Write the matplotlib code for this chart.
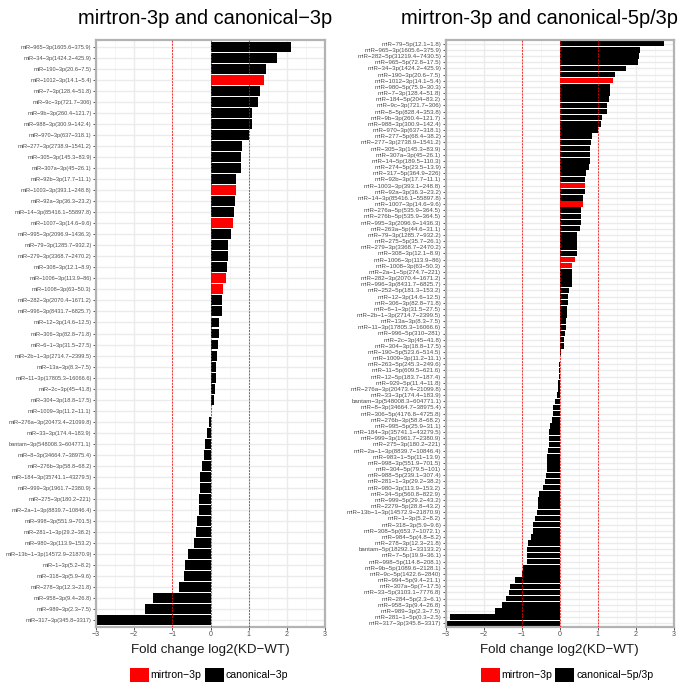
import matplotlib
matplotlib.use("Agg")
import matplotlib.pyplot as plt
from matplotlib.patches import Patch
import numpy as np

plt.rcParams['font.family'] = ['Liberation Sans', 'DejaVu Sans']

# ---------------- data ----------------
left_labels = [
    "miR-965-3p(1605.6-375.9)", "miR-34-3p(1424.2-425.9)", "miR-190-3p(20.6-7.5)",
    "miR-1012-3p(14.1-5.4)", "miR-7-3p(128.4-51.8)", "miR-9c-3p(721.7-306)",
    "miR-9b-3p(260.4-121.7)", "miR-988-3p(300.9-142.4)", "miR-970-3p(637-318.1)",
    "miR-277-3p(2738.9-1541.2)", "miR-305-3p(145.3-83.9)", "miR-307a-3p(45-26.1)",
    "miR-92b-3p(17.7-11.1)", "miR-1003-3p(393.1-248.8)", "miR-92a-3p(36.3-23.2)",
    "miR-14-3p(85416.1-55897.8)", "miR-1007-3p(14.6-9.6)", "miR-995-3p(2096.9-1436.3)",
    "miR-79-3p(1285.7-932.2)", "miR-279-3p(3368.7-2470.2)", "miR-308-3p(12.1-8.9)",
    "miR-1006-3p(113.9-86)", "miR-1008-3p(63-50.3)", "miR-282-3p(2070.4-1671.2)",
    "miR-996-3p(8431.7-6825.7)", "miR-12-3p(14.6-12.5)", "miR-306-3p(82.8-71.8)",
    "miR-6-1-3p(31.5-27.5)", "miR-2b-1-3p(2714.7-2399.5)", "miR-13a-3p(8.3-7.5)",
    "miR-11-3p(17805.3-16066.6)", "miR-2c-3p(45-41.8)", "miR-304-3p(18.8-17.5)",
    "miR-1009-3p(11.2-11.1)", "miR-276a-3p(20473.4-21099.8)", "miR-33-3p(174.4-183.9)",
    "bantam-3p(548008.3-604771.1)", "miR-8-3p(34664.7-38975.4)", "miR-276b-3p(58.8-68.2)",
    "miR-184-3p(35741.1-43279.5)", "miR-999-3p(1961.7-2380.9)", "miR-275-3p(180.2-221)",
    "miR-2a-1-3p(8839.7-10846.4)", "miR-998-3p(551.9-701.5)", "miR-281-1-3p(29.2-38.2)",
    "miR-980-3p(113.9-153.2)", "miR-13b-1-3p(14572.9-21870.9)", "miR-1-3p(5.2-8.2)",
    "miR-318-3p(5.9-9.6)", "miR-278-3p(12.3-21.8)", "miR-958-3p(9.4-26.8)",
    "miR-989-3p(2.3-7.5)", "miR-317-3p(345.8-3317)",
]
left_values = [
    2.10, 1.74, 1.46, 1.39, 1.31, 1.24, 1.10, 1.08, 1.00, 0.83, 0.79, 0.79,
    0.67, 0.66, 0.65, 0.61, 0.60, 0.55, 0.46, 0.45, 0.44, 0.41, 0.33, 0.31,
    0.31, 0.22, 0.21, 0.20, 0.18, 0.15, 0.15, 0.11, 0.10, 0.01, -0.04, -0.08,
    -0.14, -0.17, -0.21, -0.28, -0.28, -0.29, -0.30, -0.35, -0.39, -0.43,
    -0.59, -0.66, -0.70, -0.83, -1.51, -1.71, -3.26,
]

right_labels = [
    "miR-79-5p(12.1-1.8)", "miR-965-3p(1605.6-375.9)", "miR-282-5p(31219.4-7430.5)",
    "miR-965-5p(72.8-17.5)", "miR-34-3p(1424.2-425.9)", "miR-190-3p(20.6-7.5)",
    "miR-1012-3p(14.1-5.4)", "miR-980-5p(75.9-30.3)", "miR-7-3p(128.4-51.8)",
    "miR-184-5p(204-83.2)", "miR-9c-3p(721.7-306)", "miR-8-5p(828.4-353.8)",
    "miR-9b-3p(260.4-121.7)", "miR-988-3p(300.9-142.4)", "miR-970-3p(637-318.1)",
    "miR-277-5p(68.4-38.2)", "miR-277-3p(2738.9-1541.2)", "miR-305-3p(145.3-83.9)",
    "miR-307a-3p(45-26.1)", "miR-14-5p(189.5-110.3)", "miR-274-5p(23.5-13.9)",
    "miR-317-5p(364.9-226)", "miR-92b-3p(17.7-11.1)", "miR-1003-3p(393.1-248.8)",
    "miR-92a-3p(36.3-23.2)", "miR-14-3p(85416.1-55897.8)", "miR-1007-3p(14.6-9.6)",
    "miR-276a-5p(535.9-364.5)", "miR-276b-5p(535.9-364.5)", "miR-995-3p(2096.9-1436.3)",
    "miR-263a-5p(44.6-31.1)", "miR-79-3p(1285.7-932.2)", "miR-275-5p(35.7-26.1)",
    "miR-279-3p(3368.7-2470.2)", "miR-308-3p(12.1-8.9)", "miR-1006-3p(113.9-86)",
    "miR-1008-3p(63-50.3)", "miR-2a-1-5p(274.7-221)", "miR-282-3p(2070.4-1671.2)",
    "miR-996-3p(8431.7-6825.7)", "miR-252-5p(181.3-153.2)", "miR-12-3p(14.6-12.5)",
    "miR-306-3p(82.8-71.8)", "miR-6-1-3p(31.5-27.5)", "miR-2b-1-3p(2714.7-2399.5)",
    "miR-13a-3p(8.3-7.5)", "miR-11-3p(17805.3-16066.6)", "miR-996-5p(310-281)",
    "miR-2c-3p(45-41.8)", "miR-304-3p(18.8-17.5)", "miR-190-5p(523.6-514.5)",
    "miR-1009-3p(11.2-11.1)", "miR-263-5p(245.3-249.6)", "miR-11-5p(609.5-621.6)",
    "miR-12-5p(183.7-187.4)", "miR-929-5p(11.4-11.8)", "miR-276a-3p(20473.4-21099.8)",
    "miR-33-3p(174.4-183.9)", "bantam-3p(548008.3-604771.1)", "miR-8-3p(34664.7-38975.4)",
    "miR-306-5p(4176.8-4725.8)", "miR-276b-3p(58.8-68.2)", "miR-995-5p(25.9-31.1)",
    "miR-184-3p(35741.1-43279.5)", "miR-999-3p(1961.7-2380.9)", "miR-275-3p(180.2-221)",
    "miR-2a-1-3p(8839.7-10846.4)", "miR-983-1-5p(11-13.9)", "miR-998-3p(551.9-701.5)",
    "miR-304-5p(79.5-101)", "miR-988-5p(239.1-307.4)", "miR-281-1-3p(29.2-38.2)",
    "miR-980-3p(113.9-153.2)", "miR-34-5p(560.8-822.9)", "miR-999-5p(29.2-43.2)",
    "miR-2279-5p(28.8-43.2)", "miR-13b-1-3p(14572.9-21870.9)", "miR-1-3p(5.2-8.2)",
    "miR-318-3p(5.9-9.6)", "miR-308-5p(653.7-1072.1)", "miR-984-5p(4.8-8.2)",
    "miR-278-3p(12.3-21.8)", "bantam-5p(18292.1-33133.2)", "miR-7-5p(19.9-36.1)",
    "miR-998-5p(114.8-208.1)", "miR-9b-5p(1089.6-2128.1)", "miR-9c-5p(1422.6-2840)",
    "miR-994-5p(9.4-21.1)", "miR-307a-5p(7-17.5)", "miR-33-5p(3103.1-7776.8)",
    "miR-284-5p(2.3-6.1)", "miR-958-3p(9.4-26.8)", "miR-989-3p(2.3-7.5)",
    "miR-281-1-5p(0.3-2.5)", "miR-317-3p(345.8-3317)",
]
right_values = [
    2.75, 2.10, 2.07, 2.06, 1.74, 1.46, 1.39, 1.33, 1.31, 1.29,
    1.24, 1.23, 1.10, 1.08, 1.00, 0.84, 0.83, 0.79, 0.79, 0.78,
    0.76, 0.69, 0.67, 0.66, 0.65, 0.61, 0.60, 0.56, 0.56, 0.55,
    0.52, 0.46, 0.45, 0.45, 0.44, 0.41, 0.33, 0.31, 0.31, 0.31,
    0.24, 0.22, 0.21, 0.20, 0.18, 0.15, 0.15, 0.14, 0.11, 0.10,
    0.03, 0.01, -0.03, -0.03, -0.03, -0.05, -0.04, -0.08, -0.14, -0.17,
    -0.18, -0.21, -0.26, -0.28, -0.28, -0.29, -0.30, -0.34, -0.35, -0.35,
    -0.36, -0.39, -0.43, -0.55, -0.57, -0.58, -0.59, -0.66, -0.70, -0.71,
    -0.77, -0.83, -0.86, -0.86, -0.86, -0.97, -1.00, -1.17, -1.32, -1.33,
    -1.41, -1.51, -1.71, -2.90, -3.26,
]

mirtrons = ["miR-1003-3p", "miR-1006-3p", "miR-1007-3p", "miR-1008-3p",
            "miR-1009-3p", "miR-1012-3p"]

titles = ["mirtron-3p and canonical\u22123p", "mirtron-3p and canonical-5p/3p"]
legend_labels = [["mirtron\u22123p", "canonical\u22123p"],
                 ["mirtron\u22123p", "canonical\u22125p/3p"]]
xlabel = "Fold change log2(KD\u2212WT)"
xticks = [-3, -2, -1, 0, 1, 2, 3]
ref_lines = [-1, 0, 1]

# ---------------- figure ----------------
W, H = 681, 685
fig = plt.figure(figsize=(W / 100, H / 100), dpi=100)

def fx(px):
    return px / W

def fy(py):
    return 1 - py / H

panel_top, panel_bot = 40, 627
axes_px = [(96, 325), (445.7, 674)]
title_cx = [205, 539]
legend_cx = [209, 567]
ylab_size = [4.1, 4.4]

RED = "#FF0000"
GRID = "#ebebeb"
BORDER = "#b3b3b3"
TXT = "#4d4d4d"

for k, (labels, values) in enumerate([(left_labels, left_values),
                                       (right_labels, right_values)]):
    x0, x1 = axes_px[k]
    ax = fig.add_axes([fx(x0), fy(panel_bot), (x1 - x0) / W,
                       (panel_bot - panel_top) / H])
    n = len(labels)
    pos = np.arange(n)
    colors = [RED if lab.split("(")[0] in mirtrons else "black" for lab in labels]
    ax.barh(pos, values, height=0.9, color=colors, zorder=2, linewidth=0)
    for v in ref_lines:
        ax.axvline(v, color=RED, linestyle=(0, (2, 1.2)), linewidth=0.7,
                   alpha=0.8, zorder=3)
    ax.set_xlim(-3, 3)
    ax.set_ylim(n - 1 + 0.6, -0.6)
    ax.set_yticks(pos)
    ax.set_yticklabels([lab.replace("-", "\u2212") for lab in labels],
                       fontsize=ylab_size[k], color=TXT)
    ax.set_xticks(xticks)
    ax.set_xticklabels([str(t).replace("-", "\u2212") for t in xticks],
                       fontsize=5, color=TXT)
    ax.set_xticks(np.arange(-2.5, 3, 1.0), minor=True)
    ax.tick_params(axis="both", which="major", length=2.2, width=0.6,
                   color="#333333", pad=1.0)
    ax.tick_params(axis="x", which="minor", length=0)
    ax.grid(True, which="major", color=GRID, linewidth=1.0, zorder=0)
    ax.grid(True, which="minor", axis="x", color="#f4f4f4", linewidth=0.6, zorder=0)
    ax.set_axisbelow(True)
    for s in ax.spines.values():
        s.set_color(BORDER)
        s.set_linewidth(1.6)
    ax.set_xlabel(xlabel, fontsize=9.6, color="#1a1a1a", labelpad=4)

    fig.text(fx(title_cx[k]), fy(19), titles[k], fontsize=14.4,
             ha="center", va="center", color="black")

    handles = [Patch(facecolor=RED, edgecolor="none"),
               Patch(facecolor="black", edgecolor="none")]
    fig.legend(handles, legend_labels[k], loc="center",
               bbox_to_anchor=(fx(legend_cx[k]), fy(675)), ncol=2,
               frameon=False, fontsize=7.6, handlelength=1.8,
               handleheight=1.8, handletextpad=0.15, columnspacing=0.3,
               borderpad=0, borderaxespad=0)

fig.savefig("out.png", dpi=100)
